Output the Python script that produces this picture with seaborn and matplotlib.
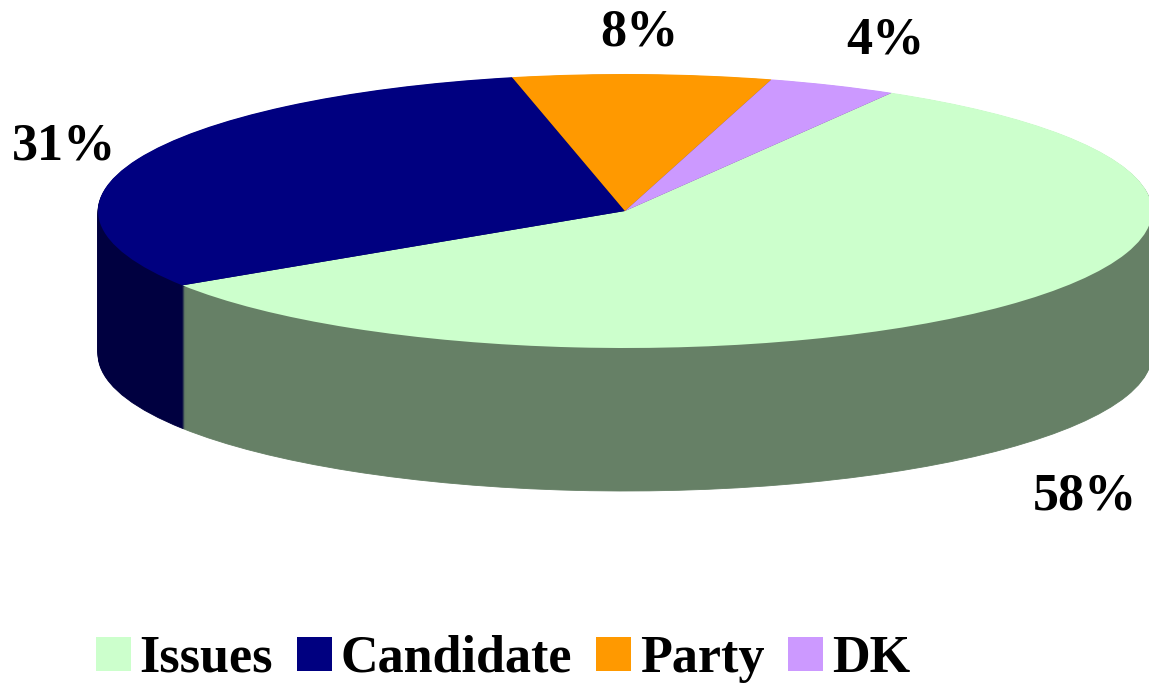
import matplotlib
matplotlib.use("Agg")
import matplotlib.pyplot as plt
import numpy as np
import seaborn as sns

sns.set_theme(style="white")
plt.rcParams["font.family"] = ["Liberation Serif", "DejaVu Serif"]

categories = ["Issues", "Candidate", "Party", "DK"]
values = [58, 31, 8, 4]
pct_labels = ["58%", "31%", "8%", "4%"]
top_colors = ["#CCFFCC", "#000080", "#FF9900", "#CC99FF"]
side_colors = ["#668066", "#000040", "#804D00", "#664D80"]

# pie geometry in reference pixels (the pie is squashed into an ellipse)
W, H = 1149, 683
CX, CY, RX, RY, DEPTH = 625, 211, 527, 137, 143
START = 59.6

fig = plt.figure(figsize=(W / 100, H / 100), dpi=100)
ax = fig.add_axes([0, 0, 1, 1])

# extruded side: same pie repeated downwards
for off in np.arange(DEPTH, 0, -1.0):
    wedges, _ = ax.pie(values, colors=side_colors, startangle=START, counterclock=False,
                       center=(0, -off / RY))
    for w, c in zip(wedges, side_colors):
        w.set_edgecolor(c)
        w.set_linewidth(0.6)

top, _ = ax.pie(values, colors=top_colors, startangle=START, counterclock=False,
                wedgeprops={"linewidth": 0})

ax.set_aspect("auto")
ax.set_xlim(-CX / RX, (W - CX) / RX)
ax.set_ylim(-(H - CY) / RY, CY / RY)

# percent labels, placed in axes pixels
label_pos = [(1085, 497), (64, 147), (639, 32), (885, 41)]
for txt, (px, py) in zip(pct_labels, label_pos):
    ax.text(px / W, 1 - py / H, txt, transform=ax.transAxes, ha="center", va="center",
            fontsize=37.5, fontweight="bold", color="black")

ax.legend(top, categories, ncol=4, loc="center", bbox_to_anchor=(503 / W, 1 - 659 / H),
          frameon=False, prop={"size": 37.5, "weight": "bold"}, handlelength=0.67,
          handleheight=0.63, handletextpad=0.17, columnspacing=0.46, labelcolor="black",
          borderpad=0, borderaxespad=0)

fig.savefig("out.png", dpi=100)
